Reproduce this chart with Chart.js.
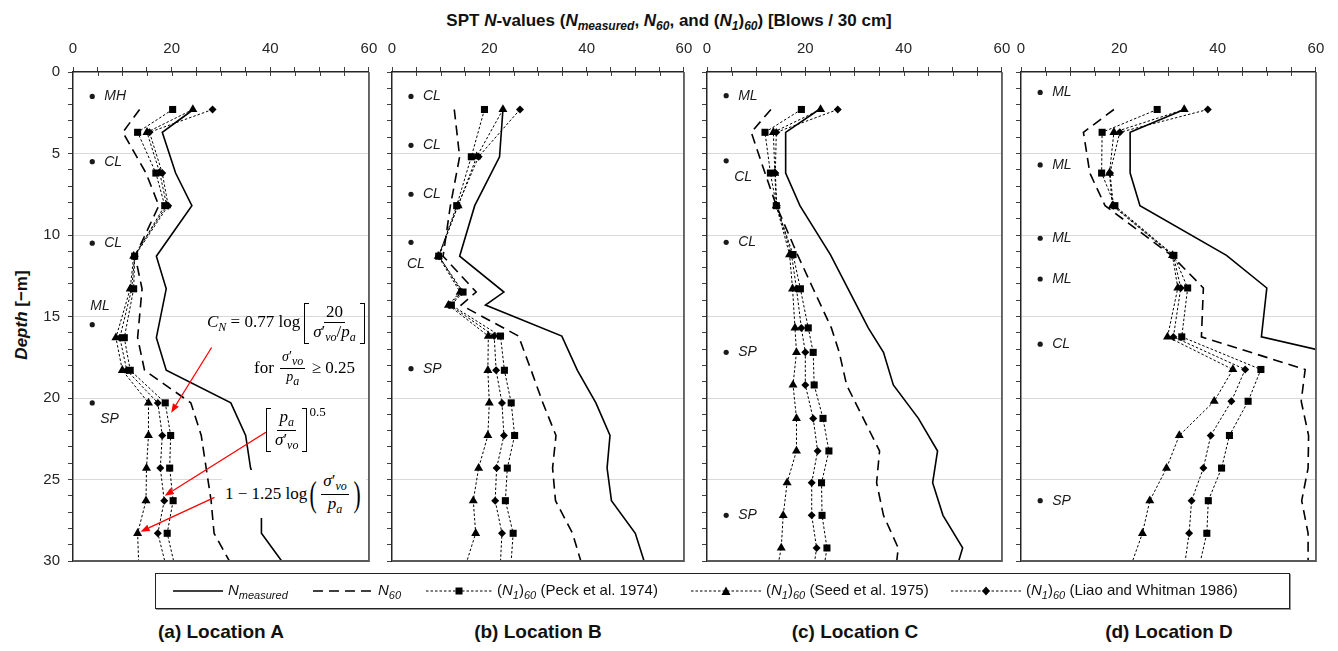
<!DOCTYPE html>
<html>
<head>
<meta charset="utf-8">
<script src="https://cdn.jsdelivr.net/npm/chart.js@4.4.0/dist/chart.umd.min.js"></script>
<style>
body{margin:0;background:#fff;width:1338px;height:651px;overflow:hidden;position:relative;font-family:'Liberation Sans',Arial,sans-serif;color:#111}
canvas{position:absolute}
#title{position:absolute;left:0;width:1338px;top:11px;text-align:center;font-weight:bold;font-size:17px;color:#111}
#title sub{font-size:12px}
#ytitle{position:absolute;left:-38px;top:305px;width:120px;text-align:center;transform:rotate(-90deg);font-weight:bold;font-size:17px;color:#111}
#legend{position:absolute;left:155px;top:573px;width:1133px;height:34px;border:1.5px solid #222;box-shadow:1px 1px 0 #999}
.li{position:absolute;top:0;height:34px;display:flex;align-items:center;font-size:15px;color:#111;white-space:nowrap}
.li svg{margin-right:5px}
.li sub{font-size:11px}
.cap{position:absolute;top:621px;width:300px;text-align:center;font-weight:bold;font-size:19px;color:#111}
.f{position:absolute;font-family:'Liberation Serif','DejaVu Serif',serif;font-size:17px;color:#000;white-space:nowrap;display:flex;align-items:center}
.f sub{font-size:12px}
.fr{display:inline-flex;flex-direction:column;align-items:center;margin:0 2px;line-height:1.1}
.fr .n{border-bottom:1px solid #000;padding:0 2px}
.fr .d{padding:0 2px}
.bl,.br{display:inline-block;width:4px;border:1.2px solid #000;align-self:stretch}
.bl{border-right:none;margin-left:4px}
.br{border-left:none}
.pa{font-size:36px;line-height:1;transform:scaleX(0.6);display:inline-block}
</style>
</head>
<body>
<div id="title">SPT <i>N</i>-values (<i>N<sub>measured</sub></i>, <i>N<sub>60</sub></i>, and (<i>N<sub>1</sub></i>)<i><sub>60</sub></i>) [Blows / 30 cm]</div>
<div id="ytitle"><i>Depth</i> [−m]</div>

<canvas id="cA"></canvas>
<canvas id="cB"></canvas>
<canvas id="cC"></canvas>
<canvas id="cD"></canvas>

<div class="f" style="left:207px;top:303px"><span><i>C<sub>N</sub></i>&nbsp;= 0.77 log</span><span class="bl"></span><span class="fr"><span class="n">20</span><span class="d"><i>σ</i>′<sub><i>vo</i></sub>/<i>p<sub>a</sub></i></span></span><span class="br"></span></div>
<div class="f" style="left:254px;top:349px"><span>for&nbsp;</span><span class="fr" style="font-size:14px"><span class="n"><i>σ</i>′<sub><i>vo</i></sub></span><span class="d"><i>p<sub>a</sub></i></span></span><span>&nbsp;≥ 0.25</span></div>
<div class="f" style="left:266px;top:408px;align-items:flex-start"><span style="display:flex;align-items:center;"><span class="bl" style="margin-left:0"></span><span class="fr"><span class="n"><i>p<sub>a</sub></i></span><span class="d"><i>σ</i>′<sub><i>vo</i></sub></span></span><span class="br"></span></span><span style="font-size:13px;margin-left:2px;margin-top:-4px">0.5</span></div>
<div class="f" style="left:222px;top:470px;background:#fff;padding:2px 3px"><span>1 − 1.25 log</span><span class="pa">(</span><span class="fr"><span class="n"><i>σ</i>′<sub><i>vo</i></sub></span><span class="d"><i>p<sub>a</sub></i></span></span><span class="pa">)</span></div>

<div id="legend">
  <div class="li" style="left:17px"><svg width="50" height="12"><line x1="0" y1="6" x2="50" y2="6" stroke="#000" stroke-width="1.5"/></svg><span><i>N<sub>measured</sub></i></span></div>
  <div class="li" style="left:157px"><svg width="60" height="12"><line x1="0" y1="6" x2="60" y2="6" stroke="#000" stroke-width="1.5" stroke-dasharray="10,6"/></svg><span><i>N<sub>60</sub></i></span></div>
  <div class="li" style="left:270px"><svg width="66" height="12"><line x1="0" y1="6" x2="66" y2="6" stroke="#000" stroke-width="1" stroke-dasharray="2.5,2"/><rect x="29.5" y="2.5" width="7" height="7" fill="#000"/></svg><span>(<i>N<sub>1</sub></i>)<i><sub>60</sub></i>&nbsp;(Peck et al. 1974)</span></div>
  <div class="li" style="left:535px"><svg width="70" height="12"><line x1="0" y1="6" x2="70" y2="6" stroke="#000" stroke-width="1" stroke-dasharray="2.5,2"/><polygon points="35,1.5 39.5,10 30.5,10" fill="#000"/></svg><span>(<i>N<sub>1</sub></i>)<i><sub>60</sub></i>&nbsp;(Seed et al. 1975)</span></div>
  <div class="li" style="left:795px"><svg width="70" height="12"><line x1="0" y1="6" x2="70" y2="6" stroke="#000" stroke-width="1" stroke-dasharray="2.5,2"/><polygon points="35,1.5 39,6 35,10.5 31,6" fill="#000"/></svg><span>(<i>N<sub>1</sub></i>)<i><sub>60</sub></i>&nbsp;(Liao and Whitman 1986)</span></div>
</div>

<div class="cap" style="left:71px">(a) Location A</div>
<div class="cap" style="left:388px">(b) Location B</div>
<div class="cap" style="left:705px">(c) Location C</div>
<div class="cap" style="left:1019px">(d) Location D</div>

<script>
// depths [m] and blow counts
const depthA = [2.3, 3.7, 6.2, 8.2, 11.3, 13.3, 16.3, 18.3, 20.3, 22.3, 24.3, 26.3, 28.3, 30];
const nMeasA = [24.4, 18.1, 20.8, 24.1, 16.9, 18.9, 16.9, 18.9, 32.0, 35.0, 36.0, 38.2, 38.2, 42.3];
const n60A   = [13.5, 10.1, 14.8, 17.4, 12.6, 14.0, 13.1, 14.5, 23.9, 26.0, 27.0, 28.0, 28.6, 31.7];
const peckA  = [20.2, 13.1, 16.8, 18.6, 12.5, 12.3, 10.4, 11.6, 18.7, 19.8, 19.6, 20.3, 19.1, 20.4];
const seedA  = [24.3, 15.0, 17.6, 19.0, 12.3, 11.6, 8.7, 10.0, 15.3, 15.3, 14.9, 14.8, 13.1, 13.3];
const liaoA  = [28.3, 15.5, 18.1, 19.3, 12.5, 11.9, 9.5, 10.9, 17.2, 18.1, 17.7, 18.5, 17.2, 18.6];

const depthB = [2.3, 5.2, 8.2, 11.3, 13.5, 14.3, 16.2, 18.3, 20.3, 22.3, 24.3, 26.3, 28.3, 30];
const nMeasB = [22.8, 22.1, 17.0, 13.9, 23.0, 19.2, 34.9, 38.1, 41.9, 44.8, 44.2, 45.1, 50.0, 51.8];
const n60B   = [12.8, 13.9, 12.0, 10.5, 17.3, 14.2, 26.0, 28.6, 31.0, 33.7, 33.0, 33.6, 37.1, 38.8];
const peckB  = [19.0, 16.3, 13.3, 9.6, 14.6, 12.2, 22.3, 23.1, 24.5, 25.2, 23.7, 23.3, 24.9, 24.5];
const seedB  = [22.8, 17.4, 13.6, 9.5, 14.0, 11.6, 19.8, 19.7, 20.0, 19.7, 17.8, 16.7, 17.2, 15.4];
const liaoB  = [26.3, 17.8, 13.5, 9.7, 14.3, 11.9, 21.0, 21.4, 22.6, 23.0, 21.5, 21.2, 22.6, 22.3];

const depthC = [2.3, 3.7, 6.2, 8.2, 11.2, 13.3, 15.7, 17.2, 19.2, 21.25, 23.25, 25.2, 27.2, 29.2, 30];
const nMeasC = [22.8, 16.0, 16.0, 18.9, 25.1, 28.7, 32.8, 35.9, 37.9, 43.0, 46.9, 45.9, 48.0, 52.0, 51.2];
const n60C   = [13.0, 9.0, 11.8, 14.1, 18.4, 21.6, 25.3, 26.9, 28.4, 31.8, 35.1, 34.5, 35.9, 38.9, 38.6];
const peckC  = [19.2, 11.8, 12.9, 14.1, 17.5, 19.0, 20.6, 21.6, 21.8, 23.6, 24.8, 23.3, 23.4, 24.4, 24.0];
const seedC  = [23.1, 13.5, 13.8, 14.1, 16.8, 17.4, 17.9, 18.2, 17.5, 18.2, 18.2, 16.3, 15.5, 15.1, 14.6];
const liaoC  = [26.6, 14.1, 13.9, 14.2, 17.2, 18.2, 19.2, 20.0, 20.0, 21.6, 22.5, 21.3, 21.3, 22.3, 21.9];

const depthD = [2.3, 3.7, 6.2, 8.2, 11.25, 13.25, 16.25, 18.25, 20.2, 22.3, 24.3, 26.3, 28.3, 30];
const nMeasD = [33.2, 22.2, 22.2, 24.2, 41.8, 50.0, 48.9, 78.0];
const n60D   = [18.9, 12.7, 14.0, 17.1, 30.6, 37.1, 36.7, 57.8, 57.0, 58.5, 58.4, 57.1, 58.4, 58.4];
const peckD  = [27.7, 16.5, 16.4, 19.1, 31.1, 33.9, 32.7, 48.8, 46.2, 42.4, 40.8, 38.1, 37.8, 36.5];
const seedD  = [33.2, 18.9, 18.0, 18.6, 30.8, 31.9, 29.8, 43.1, 39.3, 32.2, 29.6, 26.2, 24.7, 22.7];
const liaoD  = [38.0, 20.1, 18.1, 18.8, 31.0, 32.5, 31.0, 45.6, 42.8, 38.6, 37.1, 34.7, 34.2, 33.4];

// soil classification labels
const soilDepthA = [1.5, 5.5, 10.5, 15.5, 20.3];
const soilTypeA  = ['MH', 'CL', 'CL', 'ML', 'SP'];
const soilDepthB = [1.5, 4.5, 7.5, 10.45, 18.2];
const soilTypeB  = ['CL', 'CL', 'CL', 'CL', 'SP'];
const soilDepthC = [1.45, 5.45, 10.45, 17.2, 27.2];
const soilTypeC  = ['ML', 'CL', 'CL', 'SP', 'SP'];
const soilDepthD = [1.25, 5.7, 10.2, 12.7, 16.7, 26.3];
const soilTypeD  = ['ML', 'ML', 'ML', 'ML', 'CL', 'SP'];
const SOIL_X = 3.9;

// correction-factor arrows in panel A: [fromN, fromDepth, toN, toDepth]
const arrowsA = [[28.1, 16.9, 19.9, 20.9], [39.1, 22.1, 18.6, 26.0], [28.7, 26.1, 13.7, 28.2]];

const FONT = "'Liberation Sans', Arial, sans-serif";
const PLOT_TOP = 72, PLOT_H = 489, YW = 45, XH = 30, RP = 12, BP = 10;

// soil dots and labels
const soilPlugin = {
  id: 'soil',
  afterDatasetsDraw(chart, args, opts) {
    if (!opts.depths) return;
    const { ctx, scales: { x, y } } = chart;
    ctx.save();
    ctx.fillStyle = '#1a1a1a';
    ctx.font = 'italic 14px ' + FONT;
    ctx.textBaseline = 'middle';
    opts.depths.forEach((d, i) => {
      const px = x.getPixelForValue(SOIL_X), py = y.getPixelForValue(d);
      ctx.beginPath(); ctx.arc(px, py, 2.6, 0, Math.PI * 2); ctx.fill();
      let tx = px + 12, ty = py;
      const p = opts.place[i];
      if (p === 't') { tx = px - 2; ty = py - 19; }
      else if (p === 'b') { tx = px + 8; ty = py + 16; }
      else if (p === 'bl') { tx = px - 4; ty = py + 22; }
      ctx.fillText(opts.types[i], tx, ty);
    });
    ctx.restore();
  }
};

// right and bottom frame
const framePlugin = {
  id: 'frame',
  afterDraw(chart) {
    const { ctx, chartArea: a } = chart;
    ctx.save();
    ctx.strokeStyle = '#595959';
    ctx.lineWidth = 1.8;
    ctx.beginPath();
    ctx.moveTo(a.right, a.top); ctx.lineTo(a.right, a.bottom); ctx.lineTo(a.left, a.bottom);
    ctx.stroke();
    // inner half of the top ticks
    ctx.strokeStyle = '#404040'; ctx.lineWidth = 1;
    for (let v = 5; v < 60; v += 5) {
      const px = Math.round(chart.scales.x.getPixelForValue(v)) + 0.5;
      ctx.beginPath(); ctx.moveTo(px, a.top); ctx.lineTo(px, a.top + 4); ctx.stroke();
    }
    ctx.restore();
  }
};

const arrowPlugin = {
  id: 'arrows',
  afterDraw(chart, args, opts) {
    if (!opts.list || !opts.list.length) return;
    const { ctx, scales: { x, y } } = chart;
    ctx.save();
    ctx.strokeStyle = '#ff0000'; ctx.fillStyle = '#ff0000'; ctx.lineWidth = 1.3;
    opts.list.forEach(([x0, y0, x1, y1]) => {
      const ax = x.getPixelForValue(x0), ay = y.getPixelForValue(y0);
      const bx = x.getPixelForValue(x1), by = y.getPixelForValue(y1);
      const ang = Math.atan2(by - ay, bx - ax), L = 9, W = 3.5;
      const ex = bx - L * Math.cos(ang), ey = by - L * Math.sin(ang);
      ctx.beginPath(); ctx.moveTo(ax, ay); ctx.lineTo(ex, ey); ctx.stroke();
      ctx.beginPath();
      ctx.moveTo(bx, by);
      ctx.lineTo(ex - W * Math.sin(ang), ey + W * Math.cos(ang));
      ctx.lineTo(ex + W * Math.sin(ang), ey - W * Math.cos(ang));
      ctx.closePath(); ctx.fill();
    });
    ctx.restore();
  }
};

function pts(vals, depth) {
  return vals.map((v, i) => ({ x: v, y: depth[i] }));
}

function markerSeries(vals, depth, style, r) {
  return {
    data: pts(vals, depth), showLine: true,
    borderColor: '#000', borderWidth: 1, borderDash: [2.5, 2],
    pointStyle: style, backgroundColor: '#000', pointBorderWidth: 0,
    pointRadius: c => (c.raw && c.raw.y >= 30 ? 0 : r)
  };
}

const panels = [
  { id: 'cA', left: 73, width: 296, depth: depthA, meas: nMeasA, n60: n60A, peck: peckA, seed: seedA, liao: liaoA,
    soilD: soilDepthA, soilT: soilTypeA, place: ['r', 'r', 'r', 't', 'b'], yLabels: true, arrows: arrowsA },
  { id: 'cB', left: 392, width: 292, depth: depthB, meas: nMeasB, n60: n60B, peck: peckB, seed: seedB, liao: liaoB,
    soilD: soilDepthB, soilT: soilTypeB, place: ['r', 'r', 'r', 'bl', 'r'], yLabels: false, arrows: [] },
  { id: 'cC', left: 707, width: 295, depth: depthC, meas: nMeasC, n60: n60C, peck: peckC, seed: seedC, liao: liaoC,
    soilD: soilDepthC, soilT: soilTypeC, place: ['r', 'b', 'r', 'r', 'r'], yLabels: false, arrows: [] },
  { id: 'cD', left: 1021, width: 295, depth: depthD, meas: nMeasD, n60: n60D, peck: peckD, seed: seedD, liao: liaoD,
    soilD: soilDepthD, soilT: soilTypeD, place: ['r', 'r', 'r', 'r', 'r', 'r'], yLabels: false, arrows: [] }
];

panels.forEach(p => {
  const cv = document.getElementById(p.id);
  cv.width = YW + p.width + RP;
  cv.height = XH + PLOT_H + BP;
  cv.style.left = (p.left - YW) + 'px';
  cv.style.top = (PLOT_TOP - XH) + 'px';

  const chart = new Chart(cv, {
    type: 'scatter',
    data: {
      datasets: [
        { data: pts(p.meas, p.depth), showLine: true, borderColor: '#000', borderWidth: 1.6, pointRadius: 0 },
        { data: pts(p.n60, p.depth), showLine: true, borderColor: '#000', borderWidth: 1.6, borderDash: [10, 6], pointRadius: 0 },
        markerSeries(p.peck, p.depth, 'rect', 5),
        markerSeries(p.seed, p.depth, 'triangle', 5.2),
        markerSeries(p.liao, p.depth, 'rectRot', 4)
      ]
    },
    options: {
      responsive: false, maintainAspectRatio: false, animation: false, devicePixelRatio: 1,
      layout: { padding: { left: 0, right: RP, top: 0, bottom: BP } },
      plugins: {
        legend: { display: false }, tooltip: { enabled: false },
        soil: { depths: p.soilD, types: p.soilT, place: p.place },
        arrows: { list: p.arrows }
      },
      scales: {
        x: {
          type: 'linear', position: 'top', min: 0, max: 60,
          ticks: { stepSize: 5, autoSkip: false, maxRotation: 0, padding: 9, color: '#262626',
                   font: { size: 15, family: FONT }, callback: v => (v % 20 === 0 ? v : '') },
          grid: { drawOnChartArea: false, tickLength: 5, tickColor: '#404040' },
          border: { color: '#262626', width: 1.5 },
          afterFit: s => { s.height = XH; }
        },
        y: {
          type: 'linear', reverse: true, min: 0, max: 30,
          ticks: { stepSize: 1, autoSkip: false, padding: 8, color: '#262626',
                   font: { size: 15, family: FONT }, callback: v => (p.yLabels && v % 5 === 0 ? v : '') },
          grid: {
            color: c => (c.tick && c.tick.value % 5 === 0 && c.tick.value > 0 && c.tick.value < 30 ? '#d9d9d9' : 'rgba(0,0,0,0)'),
            tickLength: 5, tickColor: '#404040'
          },
          border: { color: '#262626', width: 1.5 },
          afterFit: s => { s.width = YW; }
        }
      }
    },
    plugins: [soilPlugin, framePlugin, arrowPlugin]
  });

  // nudge canvas size/position so the plot area lands where the reference has it
  const a = chart.chartArea;
  const w = cv.width + (p.width - (a.right - a.left));
  const h = cv.height + (PLOT_H - (a.bottom - a.top));
  chart.resize(w, h);
  const b = chart.chartArea;
  cv.style.left = (p.left - b.left) + 'px';
  cv.style.top = (PLOT_TOP - b.top) + 'px';
});
</script>
</body>
</html>
